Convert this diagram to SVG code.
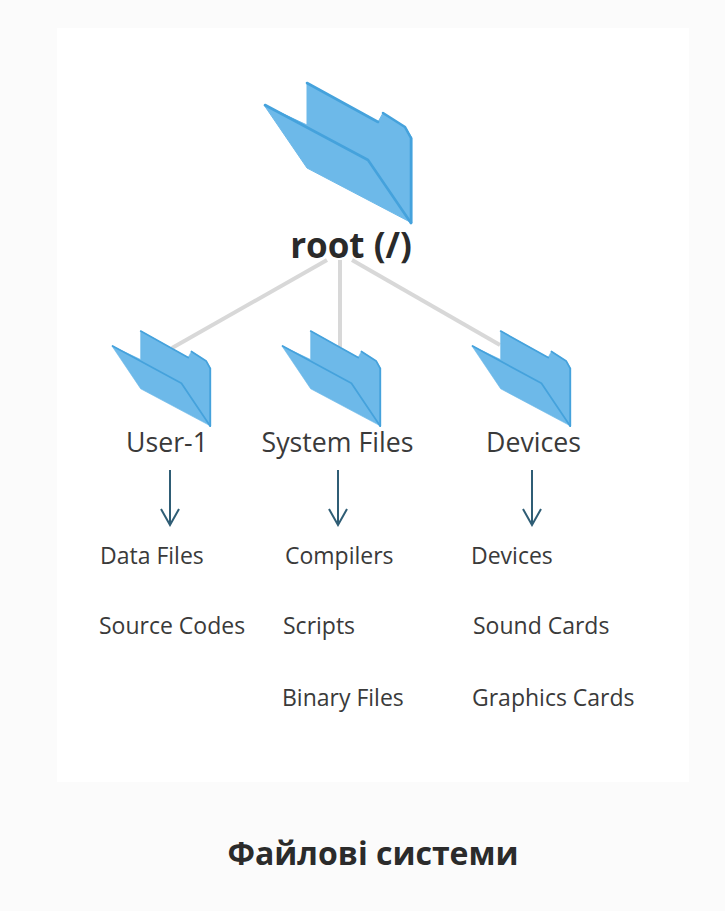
<svg xmlns="http://www.w3.org/2000/svg" width="725" height="911" viewBox="0 0 725 911">
<style>
text{font-family:"Open Sans","Noto Sans","Liberation Sans",sans-serif;fill:#333}
.lbl{font-size:26.7px;text-anchor:middle;fill:#3a3a3a}
.item{font-size:23px;fill:#3a3a3a}
.link{stroke:#d8d8d8;stroke-width:4;fill:none}
.arr{stroke:#2f5d75;stroke-width:2;fill:none}
.f{fill:#6db9e9;stroke:#6db9e9;stroke-width:1;stroke-linejoin:round}
.e{fill:none;stroke:#45a2dc;stroke-width:2.600;stroke-linejoin:round;stroke-linecap:round}
</style>
<defs>
<g id="folder">
<path class="f" d="M307 83L378 122L383 113L405 127L412 138V223L307 168L264 105L307 125Z"/>
<path class="e" d="M307 83L378 122M383 113L405 127L411 138V223"/>
<path class="e" d="M265 105L368 160L411 223"/>
</g>
<marker id="open" viewBox="0 0 20 20" refX="18" refY="10" markerWidth="20" markerHeight="20" markerUnits="userSpaceOnUse" orient="auto"><path d="M2 1L18 10L2 19" fill="none" stroke="#2f5d75" stroke-width="2"/></marker>
</defs>
<rect width="725" height="911" fill="#fbfbfb"/>
<rect x="57" y="28" width="632" height="754" fill="#fff"/>
<g id="connectors">
<path class="link" d="M327 260L172 348"/>
<path class="link" d="M340 260V347"/>
<path class="link" d="M352 260L500 345"/>
<path class="arr" marker-end="url(#open)" d="M170 470V525"/>
<path class="arr" marker-end="url(#open)" d="M338 470V525"/>
<path class="arr" marker-end="url(#open)" d="M532 470V525"/>
</g>
<g id="root"><use href="#folder"/><text x="351" y="258" font-size="35" font-weight="700" text-anchor="middle" style="fill:#2a2a2a">root (/)</text></g>
<g id="user1"><use href="#folder" transform="translate(-64.400 274.7) scale(.668 .679)"/><text class="lbl" x="167" y="451.500">User-1</text></g>
<g id="system"><use href="#folder" transform="translate(105.600 274.7) scale(.668 .679)"/><text class="lbl" x="337.500" y="451.500">System Files</text></g>
<g id="devices"><use href="#folder" transform="translate(295.600 274.7) scale(.668 .679)"/><text class="lbl" x="533.500" y="451.500">Devices</text></g>
<g id="user1-items"><text class="item" x="100" y="563.500">Data Files</text><text class="item" x="99" y="633.500">Source Codes</text></g>
<g id="system-items"><text class="item" x="285" y="563.500">Compilers</text><text class="item" x="283" y="633.500">Scripts</text><text class="item" x="282" y="705.500">Binary Files</text></g>
<g id="devices-items"><text class="item" x="471" y="563.500">Devices</text><text class="item" x="473" y="633.500">Sound Cards</text><text class="item" x="472" y="705.500">Graphics Cards</text></g>
<text x="373" y="865" font-size="32" font-weight="700" text-anchor="middle" style="fill:#2b2b2b">Файлові системи</text>
</svg>
